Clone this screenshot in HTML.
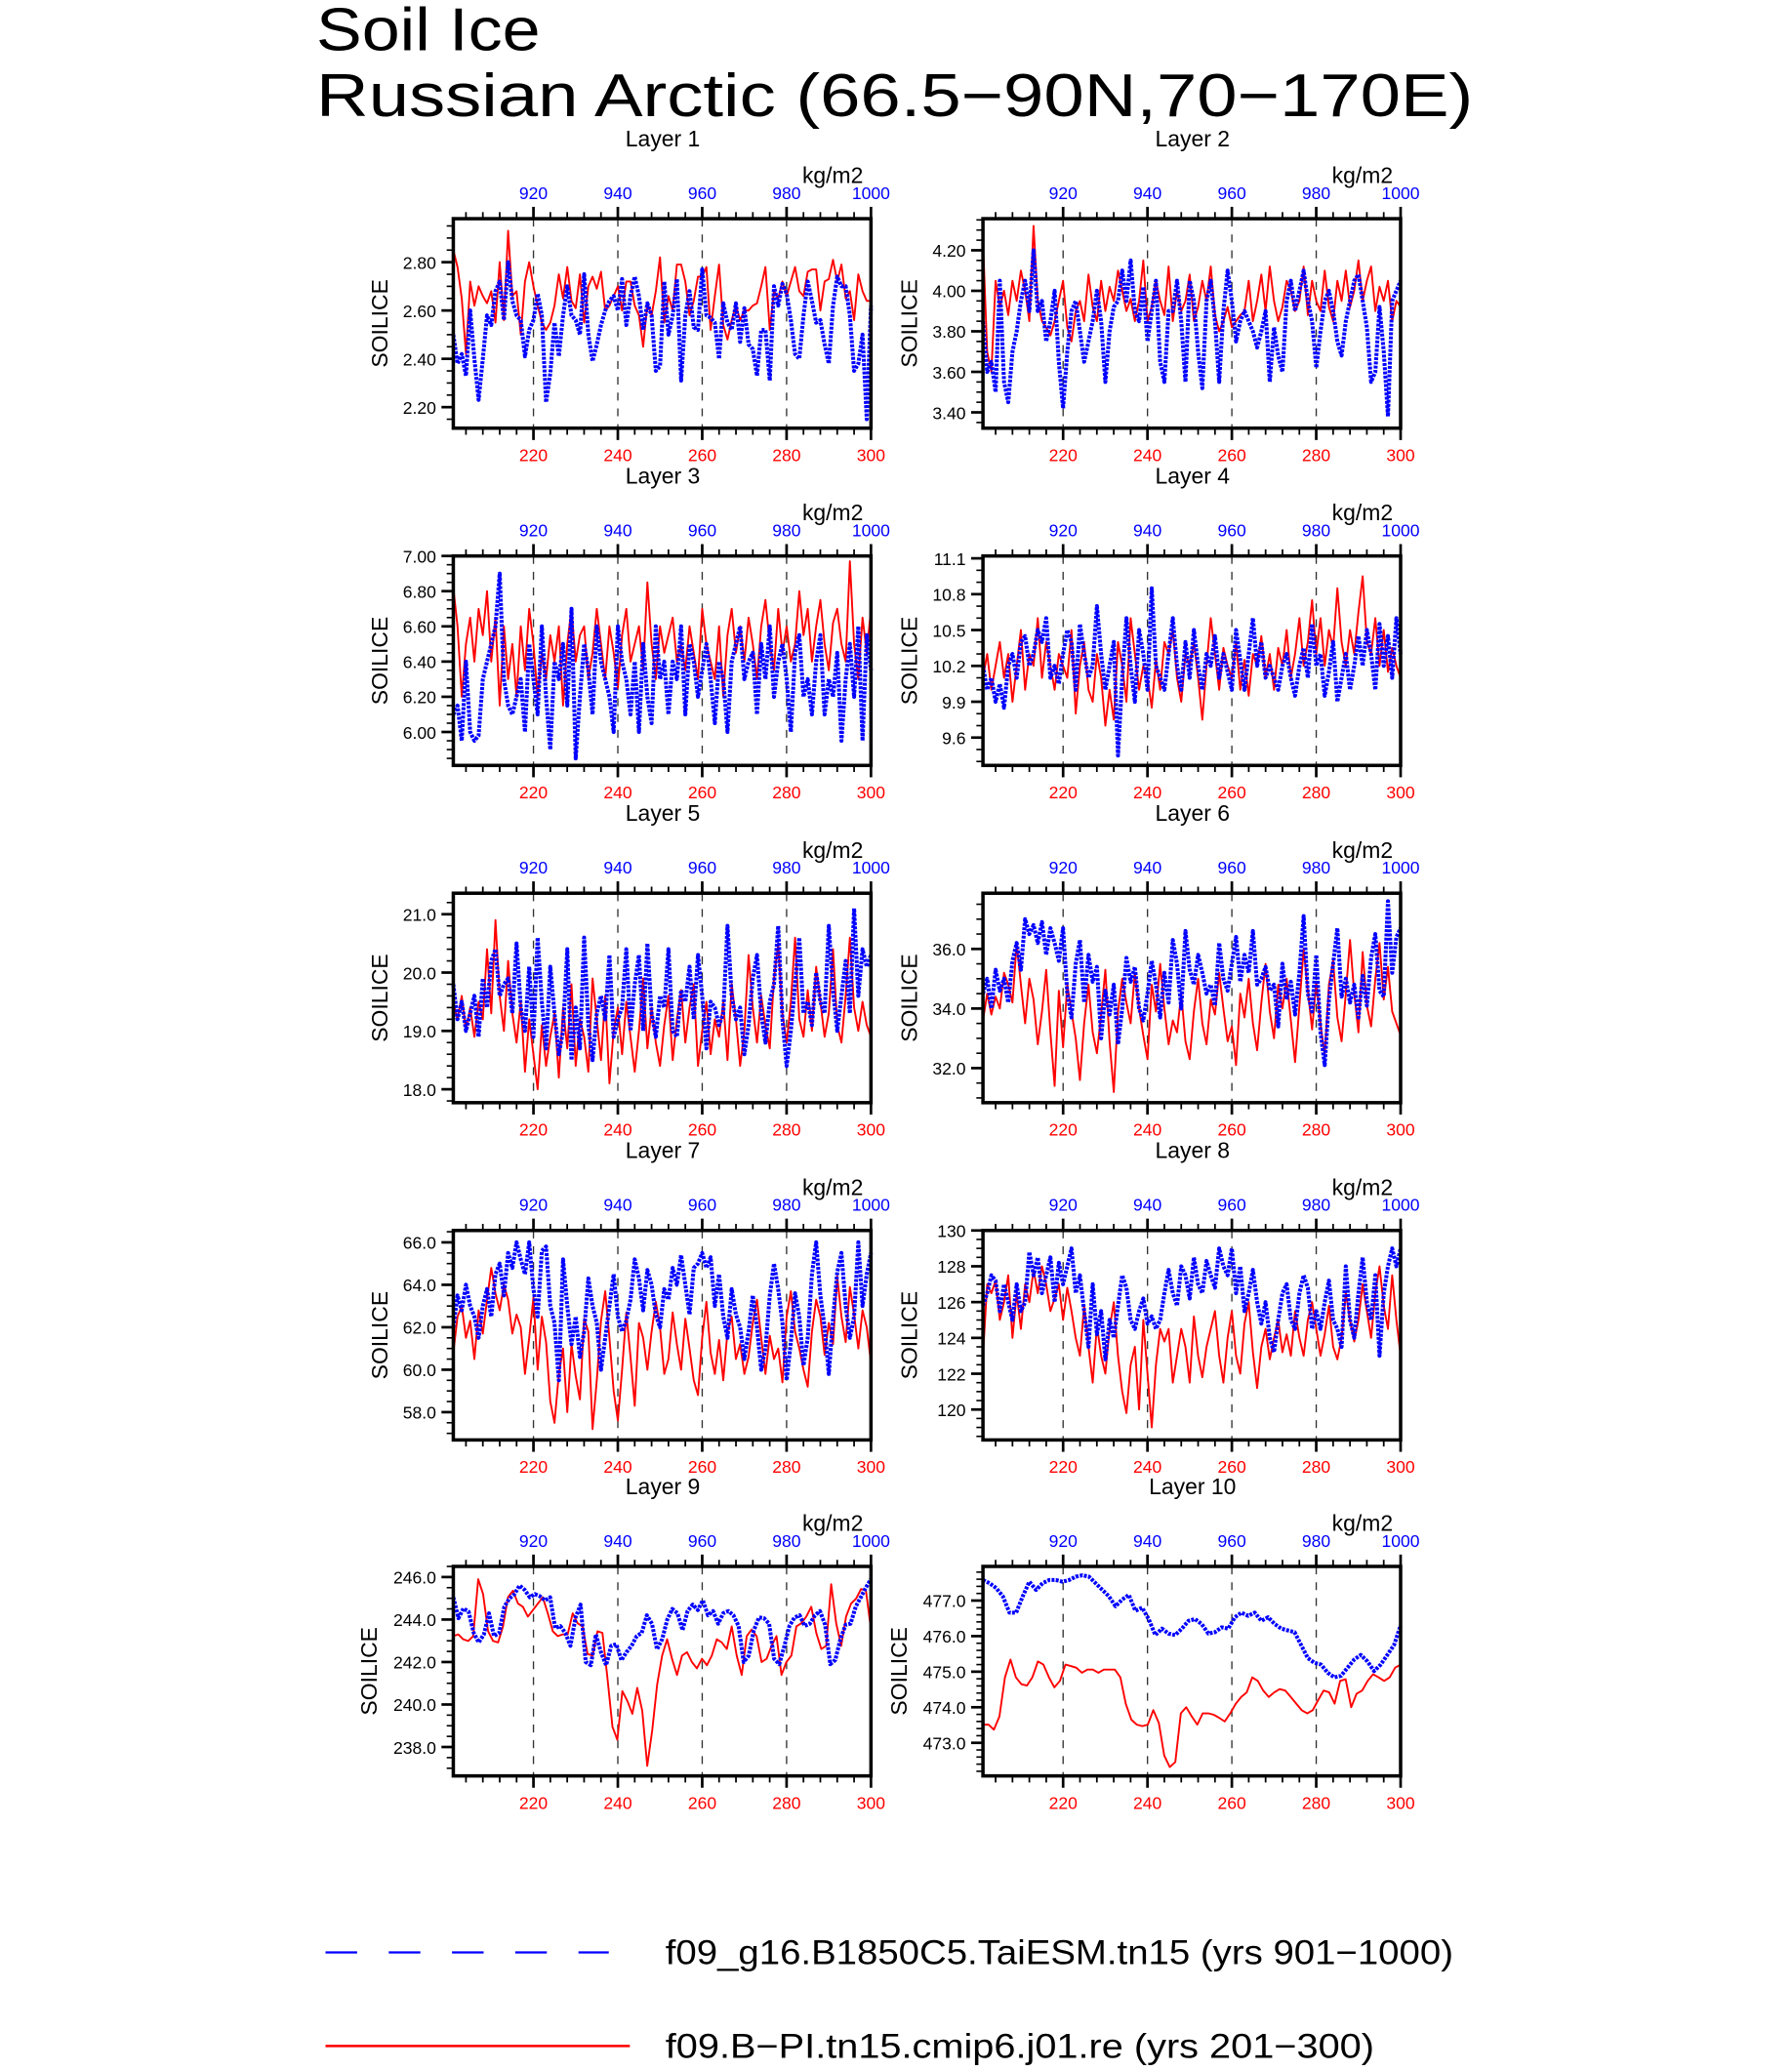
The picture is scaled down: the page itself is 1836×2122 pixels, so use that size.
<!DOCTYPE html>
<html><head><meta charset="utf-8"><title>Soil Ice - Russian Arctic</title>
<style>html,body{margin:0;padding:0;background:#fff}svg{display:block}text{font-family:"Liberation Sans",sans-serif}</style></head>
<body>
<svg id="chart" xmlns="http://www.w3.org/2000/svg" width="1836" height="2122" viewBox="0 0 1360 1572">
<rect width="1360" height="1572" fill="#fff"/>
<text x="240" y="38" font-size="46" fill="#000" textLength="170" lengthAdjust="spacingAndGlyphs" font-weight="300">Soil Ice</text>
<text x="240" y="88" font-size="46" fill="#000" textLength="878" lengthAdjust="spacingAndGlyphs">Russian Arctic (66.5−90N,70−170E)</text>
<g id="panels"></g>
<g>
<line x1="247" y1="1482" x2="462" y2="1482" stroke="#0000ff" stroke-width="1.6" stroke-dasharray="24 24"/>
<text x="505" y="1491" font-size="26" textLength="598" lengthAdjust="spacingAndGlyphs">f09_g16.B1850C5.TaiESM.tn15 (yrs 901−1000)</text>
<line x1="247" y1="1553" x2="478" y2="1553" stroke="#ff0000" stroke-width="1.8"/>
<text x="505" y="1562" font-size="26" textLength="538" lengthAdjust="spacingAndGlyphs">f09.B−PI.tn15.cmip6.j01.re (yrs 201−300)</text>
</g>
</svg>
<script>
const bottomTicks = [220, 240, 260, 280, 300];
const topTicks = [920, 940, 960, 980, 1000];
const layerNames = ["Layer 1","Layer 2","Layer 3","Layer 4","Layer 5","Layer 6","Layer 7","Layer 8","Layer 9","Layer 10"];
const yDomains = [[2.113,2.98],[3.322,4.356],[5.81,7.0],[9.367,11.12],[17.77,21.36],[30.84,37.87],[56.69,66.56],[118.3,130],[236.64,246.5],[472.07,477.96]];
const yTickVals = [[2.2,2.4,2.6,2.8],[3.4,3.6,3.8,4.0,4.2],[6.0,6.2,6.4,6.6,6.8,7.0],[9.6,9.9,10.2,10.5,10.8,11.1],[18,19,20,21],[32,34,36],[58,60,62,64,66],[120,122,124,126,128,130],[238,240,242,244,246],[473,474,475,476,477]];
const yTickLabels = [["2.20","2.40","2.60","2.80"],["3.40","3.60","3.80","4.00","4.20"],["6.00","6.20","6.40","6.60","6.80","7.00"],["9.6","9.9","10.2","10.5","10.8","11.1"],["18.0","19.0","20.0","21.0"],["32.0","34.0","36.0"],["58.0","60.0","62.0","64.0","66.0"],["120","122","124","126","128","130"],["238.0","240.0","242.0","244.0","246.0"],["473.0","474.0","475.0","476.0","477.0"]];
const yMinorStep = [0.05,0.05,0.05,0.1,0.2,0.5,0.5,0.5,0.5,0.2];

const red1=[2.85,2.78,2.65,2.42,2.72,2.62,2.7,2.66,2.63,2.68,2.55,2.80,2.56,2.93,2.66,2.68,2.50,2.72,2.80,2.70,2.62,2.55,2.52,2.55,2.62,2.75,2.65,2.78,2.64,2.61,2.75,2.55,2.70,2.74,2.69,2.76,2.60,2.62,2.66,2.70,2.60,2.72,2.72,2.62,2.58,2.45,2.63,2.58,2.68,2.82,2.55,2.66,2.60,2.79,2.79,2.72,2.58,2.64,2.74,2.74,2.78,2.52,2.66,2.79,2.54,2.48,2.56,2.62,2.56,2.60,2.60,2.62,2.63,2.70,2.78,2.52,2.68,2.65,2.72,2.66,2.72,2.78,2.68,2.66,2.76,2.77,2.77,2.60,2.72,2.73,2.81,2.72,2.79,2.65,2.68,2.56,2.75,2.68,2.64,2.64];
const blue1=[2.50,2.38,2.42,2.33,2.60,2.40,2.23,2.40,2.58,2.54,2.68,2.72,2.56,2.80,2.64,2.58,2.56,2.41,2.52,2.56,2.67,2.58,2.22,2.34,2.55,2.41,2.58,2.70,2.58,2.56,2.50,2.75,2.50,2.39,2.46,2.54,2.60,2.64,2.66,2.60,2.73,2.54,2.66,2.74,2.66,2.52,2.63,2.58,2.35,2.37,2.72,2.50,2.58,2.73,2.31,2.58,2.68,2.53,2.52,2.77,2.58,2.57,2.55,2.40,2.63,2.55,2.52,2.63,2.47,2.61,2.46,2.44,2.33,2.52,2.52,2.31,2.70,2.62,2.71,2.67,2.56,2.42,2.40,2.58,2.72,2.64,2.55,2.56,2.46,2.38,2.62,2.74,2.70,2.70,2.58,2.35,2.38,2.50,2.15,2.62];
const red2=[4.25,3.70,3.60,4.05,3.92,4.0,3.88,4.05,3.95,4.1,4.0,3.85,4.32,3.95,3.85,3.82,3.78,3.85,3.95,4.05,3.82,3.75,3.9,3.95,3.85,4.08,3.92,3.85,4.05,3.9,4.02,3.95,4.1,4.0,3.9,3.96,3.85,3.95,4.15,3.85,3.92,4.05,3.95,3.88,4.12,3.85,4.0,3.9,3.95,4.08,3.85,3.92,4.05,3.95,4.12,3.88,3.8,3.85,3.92,3.82,3.85,3.88,3.9,4.05,3.85,3.95,4.08,3.9,4.12,3.95,3.85,3.92,4.05,4.0,3.9,3.95,4.12,3.88,4.05,3.95,3.9,4.1,3.92,3.85,4.05,3.95,4.1,3.92,4.0,4.15,3.95,4.05,4.12,3.9,4.02,3.95,4.05,3.85,3.95,3.92];
const blue2=[3.85,3.6,3.65,3.5,4.05,3.55,3.45,3.7,3.8,3.95,4.05,3.9,4.2,3.9,3.95,3.75,3.85,4.0,3.65,3.42,3.7,3.9,3.95,3.8,3.65,3.75,3.85,4.0,3.85,3.55,3.8,3.92,3.95,4.1,3.95,4.15,3.9,3.85,4.02,3.75,3.9,4.05,3.65,3.55,3.9,3.9,4.05,3.85,3.55,4.05,3.95,3.7,3.52,3.95,4.05,3.85,3.55,3.9,4.1,3.95,3.75,3.85,3.9,3.85,3.8,3.72,3.8,3.9,3.55,3.82,3.68,3.6,3.95,4.05,3.9,4.0,4.1,3.95,3.85,3.62,3.8,3.95,4.0,3.9,3.75,3.68,3.85,3.95,4.05,4.08,3.95,3.82,3.55,3.6,3.92,3.7,3.38,3.95,4.0,4.05];
const red3=[6.82,6.6,6.2,6.5,6.65,6.4,6.7,6.55,6.8,6.4,6.65,6.15,6.6,6.3,6.5,6.2,6.6,6.35,6.7,6.5,6.2,6.45,6.3,6.55,6.4,6.6,6.15,6.5,6.7,6.4,6.55,6.6,6.3,6.45,6.7,6.5,6.3,6.6,6.45,6.25,6.55,6.7,6.4,6.5,6.6,6.35,6.85,6.5,6.3,6.6,6.45,6.55,6.65,6.4,6.5,6.35,6.6,6.45,6.3,6.7,6.5,6.4,6.3,6.6,6.2,6.55,6.7,6.45,6.6,6.4,6.65,6.5,6.3,6.6,6.75,6.5,6.35,6.7,6.45,6.6,6.4,6.5,6.8,6.55,6.7,6.4,6.6,6.75,6.5,6.35,6.62,6.7,6.5,6.4,6.97,6.5,6.3,6.65,6.45,6.7];
const blue3=[6.1,6.15,5.95,6.4,6.0,5.95,5.98,6.3,6.4,6.5,6.6,6.9,6.3,6.15,6.1,6.2,6.3,6.0,6.5,6.3,6.1,6.6,6.2,5.9,6.4,6.3,6.5,6.15,6.7,5.85,6.2,6.5,6.35,6.1,6.6,6.4,6.3,6.2,6.0,6.6,6.4,6.3,6.1,6.4,6.0,6.5,6.2,6.05,6.6,6.3,6.4,6.1,6.4,6.3,6.6,6.1,6.5,6.4,6.2,6.35,6.5,6.3,6.05,6.4,6.3,6.0,6.4,6.5,6.6,6.3,6.4,6.45,6.1,6.5,6.3,6.6,6.2,6.4,6.5,6.3,6.0,6.45,6.55,6.2,6.3,6.1,6.4,6.55,6.1,6.3,6.2,6.45,5.95,6.3,6.5,6.2,6.6,5.95,6.55,6.35];
const red4=[10.1,10.3,10.0,10.2,10.4,10.1,10.3,9.9,10.2,10.5,10.0,10.3,10.2,10.6,10.1,10.4,10.2,10.0,10.3,10.2,10.1,10.5,9.8,10.2,10.4,10.0,9.9,10.3,10.1,9.7,10.0,9.75,10.4,10.2,9.9,10.6,10.3,10.0,10.2,10.1,9.85,10.25,10.0,10.4,10.3,10.5,10.1,9.9,10.3,10.2,10.4,10.1,9.75,10.2,10.6,10.3,10.0,10.35,10.2,10.1,10.4,10.0,10.25,9.95,10.3,10.2,10.45,10.1,10.3,10.0,10.35,10.2,10.5,10.1,10.3,10.6,10.2,10.4,10.75,10.3,10.6,10.2,10.5,10.35,10.85,10.4,10.2,10.5,10.3,10.65,10.95,10.4,10.3,10.6,10.2,10.5,10.15,10.35,10.2,10.1];
const blue4=[10.2,10.0,10.1,9.9,10.05,9.85,10.2,10.3,10.1,10.4,10.45,10.2,10.3,10.5,10.4,10.6,10.1,10.2,10.05,10.3,10.5,10.4,10.0,10.55,10.3,10.1,10.2,10.7,10.3,10.0,10.2,10.4,9.45,10.1,10.6,10.2,9.9,10.5,10.3,10.0,10.85,10.2,10.1,10.0,10.3,10.6,10.2,10.0,10.4,10.1,10.5,10.2,10.0,10.3,10.2,10.45,10.1,10.3,10.15,10.0,10.5,10.25,10.0,10.3,10.6,10.2,10.4,10.1,10.2,10.1,10.0,10.2,10.3,10.1,9.95,10.2,10.35,10.1,10.55,10.2,10.3,9.95,10.15,10.4,9.9,10.1,10.3,10.0,10.2,10.45,10.2,10.5,10.3,10.0,10.55,10.2,10.45,10.1,10.6,10.3];
const red5=[19.5,19.2,19.6,19.0,19.4,18.9,19.5,19.2,20.4,19.3,20.9,19.6,19.0,20.2,19.3,18.8,19.5,18.3,19.2,18.6,18.0,19.1,18.4,18.9,19.3,18.2,19.4,18.7,19.8,18.4,19.2,18.9,18.3,19.9,19.2,18.5,19.6,18.1,19.0,19.4,18.6,19.5,18.9,18.3,19.0,19.9,18.7,19.4,18.8,18.4,19.1,19.6,18.5,19.2,19.7,18.8,19.4,19.8,18.4,19.0,19.5,18.6,19.2,18.9,19.5,18.5,19.8,19.2,18.4,19.0,20.3,19.4,18.8,19.6,19.1,18.7,19.9,20.5,19.3,18.8,19.5,20.6,19.2,18.9,19.7,19.0,20.1,19.5,18.9,19.3,20.4,19.1,18.8,19.6,20.6,19.4,19.0,19.5,19.1,18.9];
const blue5=[19.8,19.2,19.5,19.0,19.3,19.6,18.9,19.9,19.4,20.2,20.4,19.6,19.8,19.9,19.3,20.5,19.4,19.0,20.1,18.9,20.6,19.5,18.7,20.1,19.3,18.6,19.0,20.4,18.5,19.4,18.7,20.6,19.1,18.5,19.3,19.6,19.2,20.3,18.9,19.2,19.4,20.4,19.0,19.8,20.3,19.0,20.5,19.3,18.9,19.6,19.4,20.4,19.0,18.9,19.7,19.5,20.1,19.2,20.3,19.6,18.7,19.5,19.4,19.1,19.3,20.8,19.6,19.2,19.4,18.6,19.1,19.9,20.3,19.3,18.8,19.5,19.8,20.8,19.2,18.4,19.0,19.8,20.6,19.3,19.5,19.1,20.0,19.5,19.3,20.8,19.7,19.0,19.6,20.2,19.3,21.1,19.6,20.4,20.1,20.3];
const red6=[33.6,34.5,33.8,34.4,34.0,35.2,34.8,34.2,36.2,34.8,33.5,35.0,34.3,32.8,33.9,35.3,33.2,31.4,34.6,32.7,34.8,33.9,33.0,31.6,33.5,34.8,33.2,32.5,33.8,35.3,32.9,31.2,33.9,35.0,34.2,33.5,35.2,34.0,33.1,32.3,34.8,33.9,35.5,34.0,32.8,33.6,33.2,34.5,32.9,32.3,33.9,35.0,33.5,32.8,34.3,33.8,35.2,34.0,32.9,33.4,32.1,34.5,33.7,35.0,33.5,32.6,34.2,35.5,33.9,33.0,34.8,34.0,35.0,33.6,32.2,34.1,36.0,34.6,33.3,34.9,33.5,32.4,34.8,35.6,33.7,32.9,34.5,36.3,34.5,33.2,35.9,34.1,33.4,35.0,36.2,34.3,35.4,33.9,33.5,33.1];
const blue6=[34.5,35.0,34.0,35.3,34.6,35.0,34.2,35.6,36.2,35.3,37.0,36.5,36.8,36.2,36.9,35.8,36.7,36.2,35.6,36.7,34.5,33.7,35.5,36.3,34.2,35.8,34.9,35.4,33.0,34.6,33.8,34.8,32.8,34.0,35.7,34.9,35.4,34.0,33.6,34.5,35.6,34.8,33.7,35.2,34.2,36.3,35.5,34.0,36.6,35.3,34.8,35.8,35.2,34.5,34.8,34.1,36.2,35.0,34.6,35.5,36.4,34.9,35.8,35.2,36.6,34.8,35.0,35.4,34.6,34.8,33.4,35.5,34.3,34.9,33.8,35.2,37.1,34.5,33.9,35.8,33.2,32.1,34.3,35.5,36.7,34.4,35.0,34.2,34.8,33.7,35.1,34.1,35.7,36.5,34.6,34.4,37.6,35.2,36.4,36.7];
const red7=[60.8,62.5,63.0,61.5,62.3,60.5,62.8,61.7,63.3,64.8,63.6,62.8,64.0,63.3,61.7,62.6,62.0,59.8,61.5,63.4,60.0,62.5,61.3,58.5,57.5,59.8,61.0,58.0,61.2,59.7,58.6,62.4,61.8,57.2,59.5,62.3,63.7,61.5,59.0,57.6,60.0,62.7,60.6,58.3,62.2,61.5,60.0,61.8,63.2,62.0,59.8,60.5,62.7,61.2,60.0,62.4,61.0,59.5,58.8,61.5,63.2,60.8,59.8,61.4,59.5,61.8,62.5,60.5,61.2,59.8,60.6,62.2,63.3,61.5,59.8,61.6,60.5,61.0,59.4,62.5,63.7,61.8,61.0,60.0,59.2,61.8,63.3,62.5,60.7,62.2,61.2,64.4,62.5,61.3,63.9,62.6,61.0,62.8,62.0,60.3];
const blue7=[62.0,63.5,62.8,64.0,63.0,62.5,61.5,63.0,63.8,62.5,64.5,65.0,63.5,65.5,64.8,66.0,65.2,64.5,66.0,63.8,62.5,65.6,65.8,63.0,62.2,59.5,65.2,63.0,61.2,62.5,60.6,61.8,64.3,63.0,62.2,60.0,61.5,63.0,64.5,62.5,61.8,62.3,63.3,65.2,64.3,62.8,64.7,64.0,62.6,62.0,63.8,63.3,64.8,64.0,65.4,64.0,62.6,64.8,65.0,65.5,64.8,65.3,63.0,64.5,62.5,61.5,63.8,62.6,62.0,60.5,61.8,63.5,62.0,60.0,61.0,63.5,65.0,63.8,62.2,59.5,61.3,63.6,62.5,60.2,61.5,64.5,66.0,63.5,62.0,59.8,62.4,64.6,65.5,63.0,61.5,62.5,66.0,63.0,64.5,65.5];
const red8=[123.0,127.0,126.5,127.2,125.0,126.0,127.5,124.0,126.5,124.5,127.0,126.0,127.8,126.5,128.0,127.0,125.5,126.2,127.0,125.0,126.8,125.5,124.0,123.0,125.8,123.5,121.5,124.7,123.0,122.0,124.5,126.0,123.0,121.0,119.8,122.5,123.5,120.0,125.0,122.0,119.0,122.5,124.5,123.8,124.5,121.5,123.0,124.5,123.5,121.5,125.2,123.0,121.8,123.5,124.5,125.5,123.0,121.5,124.0,125.5,123.0,122.0,124.8,126.0,123.2,121.2,123.5,124.5,122.8,124.0,125.0,123.2,124.2,123.0,125.5,124.0,123.0,125.0,126.0,124.5,123.0,124.2,125.8,123.5,122.8,124.0,126.5,125.0,123.8,125.0,127.0,125.5,124.0,126.5,128.0,125.8,124.5,127.5,125.0,123.0];
const blue8=[125.8,126.5,127.5,127.2,125.5,127.0,126.0,125.0,127.0,125.5,126.0,128.8,127.5,128.5,126.5,127.5,128.5,126.0,128.2,127.0,128.0,129.0,126.5,127.5,125.5,123.5,127.0,124.2,125.5,122.8,125.0,124.0,125.8,127.5,126.8,125.0,124.5,125.5,126.2,124.8,125.2,124.5,125.0,126.5,127.8,126.5,125.8,128.0,127.5,126.2,128.5,127.0,126.5,128.3,127.5,126.8,129.0,128.0,127.5,129.0,126.5,128.0,125.5,126.5,127.8,126.0,124.8,126.0,124.0,123.2,125.0,126.5,127.0,125.0,124.5,126.5,127.5,126.8,124.5,125.5,124.5,126.0,127.2,125.0,124.5,123.5,128.0,125.0,124.0,126.5,128.5,126.0,125.0,127.5,123.0,126.5,128.0,129.0,128.0,129.0];
const red9=[243.22,243.3,243.07,242.99,243.22,245.9,245.2,243.45,242.99,242.92,243.68,245.05,245.36,244.75,244.6,244.14,244.44,244.75,245.05,244.29,243.45,243.22,243.3,243.3,244.29,243.83,243.68,242.38,242.3,243.45,243.37,241.24,238.95,238.34,240.63,240.17,239.56,240.78,239.71,237.11,238.8,240.93,242.3,243.07,242.15,241.39,242.3,242.46,242.0,241.7,242.15,241.85,242.3,243.07,242.92,242.61,243.68,242.3,241.39,243.22,243.53,243.22,242.0,242.15,242.76,243.22,241.39,242.0,242.3,243.68,243.83,244.14,244.6,243.37,242.61,242.76,245.66,243.83,242.76,244.14,244.75,244.98,245.44,245.36,243.53];
const blue9=[245.05,244.06,244.52,244.37,243.37,242.92,243.3,244.29,243.22,243.37,244.6,244.98,245.2,245.6,245.4,245.05,245.2,245.1,244.9,245.05,243.6,243.7,243.37,242.76,244.1,244.7,242.0,241.85,243.3,242.46,241.85,242.76,242.84,242.08,242.46,242.76,243.22,243.37,244.2,243.8,242.6,243.07,244.0,244.5,244.3,243.5,244.4,244.7,244.45,244.9,244.2,244.4,243.8,244.3,244.4,244.2,243.7,242.0,242.3,243.5,244.1,244.06,243.8,242.15,241.9,242.76,243.7,244.1,244.2,243.7,243.8,244.2,244.4,243.75,241.9,242.1,243.07,243.75,243.8,244.6,245.05,245.5,245.9];
const red10=[473.51,473.51,473.37,473.74,474.84,475.34,474.84,474.65,474.61,474.84,475.29,475.2,474.84,474.56,474.74,475.2,475.16,475.11,474.97,475.06,475.06,474.97,475.06,475.06,475.06,474.84,474.1,473.65,473.51,473.47,473.51,473.92,473.56,472.64,472.32,472.46,473.83,474.0,473.74,473.51,473.83,473.83,473.79,473.7,473.6,473.83,474.1,474.29,474.42,474.84,474.74,474.47,474.29,474.42,474.51,474.47,474.29,474.1,473.92,473.83,473.92,474.2,474.47,474.42,474.1,474.74,474.79,474.0,474.38,474.47,474.74,474.93,474.84,474.74,474.84,475.11,475.2];
const blue10=[477.58,477.49,477.35,477.12,476.66,476.66,477.12,477.53,477.3,477.49,477.58,477.58,477.53,477.58,477.67,477.71,477.67,477.49,477.3,477.12,476.84,477.03,477.16,476.71,476.8,476.48,476.03,476.21,476.07,476.03,476.21,476.43,476.48,476.34,476.07,476.11,476.25,476.21,476.53,476.66,476.57,476.66,476.43,476.53,476.34,476.21,476.16,476.11,475.75,475.38,475.25,475.2,474.97,474.84,474.88,475.11,475.34,475.47,475.29,475.02,475.2,475.47,475.75,476.3];

const redSeries=[red1,red2,red3,red4,red5,red6,red7,red8,red9,red10];
const blueSeries=[blue1,blue2,blue3,blue4,blue5,blue6,blue7,blue8,blue9,blue10];

const NS="http://www.w3.org/2000/svg";
const root=document.getElementById('panels');
const colX=[344,746], rowY=[166,422,678,934,1189], PW=317, PH=159;
const X0=201, X1=300;
function mk(tag,attrs,parent){const e=document.createElementNS(NS,tag);for(const k in attrs)e.setAttribute(k,attrs[k]);parent.appendChild(e);return e;}

for(let p=0;p<10;p++){
  const x0=colX[p%2], y0=rowY[Math.floor(p/2)], x1=x0+PW, y1=y0+PH;
  const [dmin,dmax]=yDomains[p];
  const sx=v=>x0+(v-X0)/(X1-X0)*PW;
  const sy=v=>y1-(v-dmin)/(dmax-dmin)*PH;
  const g=mk('g',{},root);
  
  
  const t=mk('text',{x:x0+159,y:y0-55,'font-size':17,'text-anchor':'middle'},g);t.textContent=layerNames[p];
  
  
  const u=mk('text',{x:x1-29,y:y0-27,'font-size':17,'text-anchor':'middle'},g);u.textContent='kg/m2';
  
  
  const yl=mk('text',{x:0,y:0,'font-size':17,'text-anchor':'middle',transform:`translate(${x0-(p>=8?58:50)},${(y0+y1)/2}) rotate(-90)`},g);yl.textContent='SOILICE';
  
  
  // dashed grid
  for(const v of [220,240,260,280]){
    const l=mk('line',{x1:sx(v),x2:sx(v),y1:y0,y2:y1,stroke:'#333','stroke-width':1,'stroke-dasharray':'6 6'},g);
    
    
  }
  // x ticks minor
  for(let v=204;v<=300;v+=4){
    const major=(v%20===0);
    mk('line',{x1:sx(v),x2:sx(v),y1:y1,y2:y1+(major?9:5),stroke:'#000','stroke-width':major?2:1.3},g);
    mk('line',{x1:sx(v),x2:sx(v),y1:y0,y2:y0-(major?9:5),stroke:'#000','stroke-width':major?2:1.3},g);
  }
  bottomTicks.forEach(v=>{
    const tx=mk('text',{x:sx(v),y:y1+25,'font-size':13,'text-anchor':'middle',fill:'#ff0000'},g);tx.textContent=v;
    
    
  });
  topTicks.forEach(v=>{
    const tx=mk('text',{x:sx(v-700),y:y0-15,'font-size':13,'text-anchor':'middle',fill:'#0000ff'},g);tx.textContent=v;
    
    
  });
  // y ticks
  const st=yMinorStep[p];
  for(let v=Math.ceil(dmin/st)*st; v<=dmax+1e-9; v+=st){
    mk('line',{x1:x0,x2:x0-5,y1:sy(v),y2:sy(v),stroke:'#000','stroke-width':1.2},g);
  }
  yTickVals[p].forEach((v,i)=>{
    mk('line',{x1:x0,x2:x0-9,y1:sy(v),y2:sy(v),stroke:'#000','stroke-width':2},g);
    const tx=mk('text',{x:x0-13,y:sy(v)+5,'font-size':13,'text-anchor':'end'},g);tx.textContent=yTickLabels[p][i];
    
    
  });
  // series
  const pts=arr=>arr.map((v,i)=>`${sx(X0+i*(X1-X0)/(arr.length-1)).toFixed(1)},${sy(v).toFixed(1)}`).join(' ');
  const r=mk('polyline',{points:pts(redSeries[p]),fill:'none',stroke:'#ff0000','stroke-width':1.4,'stroke-linejoin':'round'},g);
  
  
  const b=mk('polyline',{points:pts(blueSeries[p]),fill:'none',stroke:'#0000ff','stroke-width':3,'stroke-dasharray':'2.2 1','stroke-linejoin':'round'},g);
  
  
  const f=mk('rect',{x:x0,y:y0,width:PW,height:PH,fill:'none',stroke:'#000','stroke-width':2.6},g);
  
  
}
</script>
</body></html>
